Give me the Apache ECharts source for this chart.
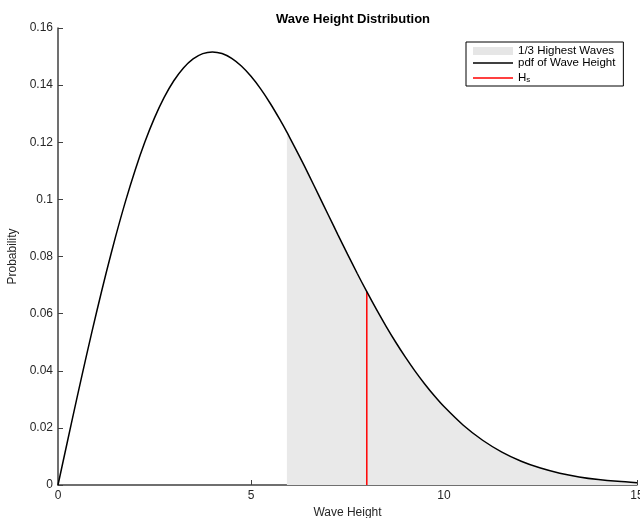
<!DOCTYPE html>
<html>
<head>
<meta charset="utf-8">
<script src="https://cdn.jsdelivr.net/npm/echarts@6/dist/echarts.min.js"></script>
<style>
  html, body { margin: 0; padding: 0; background: #fff; }
  #chart { width: 640px; height: 518px; }
</style>
</head>
<body>
<div id="chart"></div>
<script>
// Wave height (m) and probability density of the curve
const heights = [
  0, 0.25, 0.5, 0.75, 1, 1.25, 1.5, 1.75, 2, 2.25, 2.5, 2.75, 3, 3.25, 3.5, 3.75,
  4, 4.25, 4.5, 4.75, 5, 5.25, 5.5, 5.75, 5.93, 6, 6.25, 6.5, 6.75, 7, 7.25, 7.5, 7.75,
  8, 8.25, 8.5, 8.75, 9, 9.25, 9.5, 9.75, 10, 10.5, 11, 11.5, 12, 12.5, 13, 13.5,
  14, 14.5, 15
];
const probs = [
  0, 0.01559, 0.03101, 0.04606, 0.06058, 0.07440, 0.08738, 0.09939, 0.11031, 0.12005,
  0.12853, 0.13570, 0.14153, 0.14602, 0.14918, 0.15103,
  0.15163, 0.15105, 0.14937, 0.14668, 0.14307, 0.13867, 0.13357, 0.12789, 0.12352, 0.12174,
  0.11525, 0.10849, 0.10158, 0.09462, 0.08767, 0.08083, 0.07414,
  0.06767, 0.06146, 0.05556, 0.04998, 0.04475, 0.03988, 0.03538, 0.03124, 0.02746,
  0.02093, 0.01567, 0.01153, 0.00833, 0.00592, 0.00413, 0.00284, 0.00191, 0.00127, 0.00083
];
// Lower bound of the highest third of waves, and significant wave height
const highestThirdStart = 5.93;
const hsHeight = 8;
const hsProb = 0.06767;

const xTicks = [0, 5, 10, 15];
const yTickStep = 0.02;

const curve = heights.map((h, i) => [h, probs[i]]);
const shaded = curve.filter(p => p[0] >= highestThirdStart);

const FONT = '"Liberation Sans", Arial, Helvetica, sans-serif';
const AXIS_COLOR = '#404040';
// thin horizontal bar used as a line swatch in the legend
const LINE_ICON = 'path://M0,0H40V1.5H0Z';

const chart = echarts.init(document.getElementById('chart'), null, { renderer: 'canvas' });
chart.setOption({
  backgroundColor: '#ffffff',
  animation: false,
  textStyle: { fontFamily: FONT },
  title: {
    text: 'Wave Height Distribution',
    left: 348, top: 8, textAlign: 'center',
    textStyle: { fontSize: 13, fontWeight: 'bold', color: '#000', fontFamily: FONT }
  },
  grid: { left: 58, right: 3, top: 28, bottom: 33, containLabel: false, outerBoundsMode: 'none' },
  legend: {
    orient: 'vertical',
    left: 466, top: 42,
    align: 'left',
    padding: [3, 8, 2, 7],
    itemWidth: 40, itemHeight: 8, itemGap: 0,
    symbolKeepAspect: true,
    borderColor: '#000', borderWidth: 1, backgroundColor: '#fff',
    textStyle: {
      fontSize: 11.5, lineHeight: 12, color: '#000', fontFamily: FONT,
      rich: {
        n: { fontSize: 11.5, lineHeight: 12, color: '#000', fontFamily: FONT },
        s: { fontSize: 8, lineHeight: 12, color: '#000', fontFamily: FONT, verticalAlign: 'bottom', padding: [7, 0, 0, 0] }
      }
    },
    formatter: name => name === 'H_s' ? '{n|H}{s|s}' : name,
    data: [
      { name: '1/3 Highest Waves', icon: 'rect', itemStyle: { color: '#e6e6e6' } },
      { name: 'pdf of Wave Height', icon: LINE_ICON, itemStyle: { color: '#000' } },
      { name: 'H_s', icon: LINE_ICON, itemStyle: { color: '#ff0000' } }
    ]
  },
  xAxis: {
    type: 'value', min: 0, max: 15, interval: 5,
    name: 'Wave Height', nameLocation: 'middle', nameGap: 22,
    nameTextStyle: { fontSize: 12, color: '#262626', fontFamily: FONT },
    axisLine: { show: true, onZero: false, lineStyle: { color: AXIS_COLOR, width: 1.5 } },
    axisTick: { show: true, inside: true, length: 5, lineStyle: { color: AXIS_COLOR } },
    axisLabel: {
      fontSize: 12, color: '#262626', margin: 5, fontFamily: FONT,
      formatter: v => xTicks.includes(v) ? String(v) : ''
    },
    splitLine: { show: false }
  },
  yAxis: {
    type: 'value', min: 0, max: 0.16, interval: yTickStep,
    name: 'Probability', nameLocation: 'middle', nameGap: 36, nameRotate: 90,
    nameTextStyle: { fontSize: 12, color: '#262626', fontFamily: FONT },
    axisLine: { show: true, onZero: false, lineStyle: { color: AXIS_COLOR, width: 1.5 } },
    axisTick: { show: true, inside: true, length: 5, lineStyle: { color: AXIS_COLOR } },
    axisLabel: {
      fontSize: 12, color: '#262626', margin: 5, fontFamily: FONT,
      formatter: v => String(Math.round(v * 100) / 100)
    },
    splitLine: { show: false }
  },
  series: [
    {
      name: '1/3 Highest Waves',
      type: 'line',
      data: shaded,
      symbol: 'none',
      smooth: 0.3,
      lineStyle: { width: 0, color: '#e9e9e9' },
      itemStyle: { color: '#e6e6e6' },
      areaStyle: { color: '#e9e9e9', opacity: 1 },
      z: 1
    },
    {
      name: 'pdf of Wave Height',
      type: 'line',
      data: curve,
      symbol: 'none',
      smooth: 0.3,
      lineStyle: { color: '#000', width: 1.5 },
      itemStyle: { color: '#000' },
      z: 3
    },
    {
      name: 'H_s',
      type: 'line',
      data: [[hsHeight, 0], [hsHeight, hsProb]],
      symbol: 'none',
      lineStyle: { color: '#ff0000', width: 1.5 },
      itemStyle: { color: '#ff0000' },
      z: 2
    }
  ]
});
</script>
</body>
</html>
